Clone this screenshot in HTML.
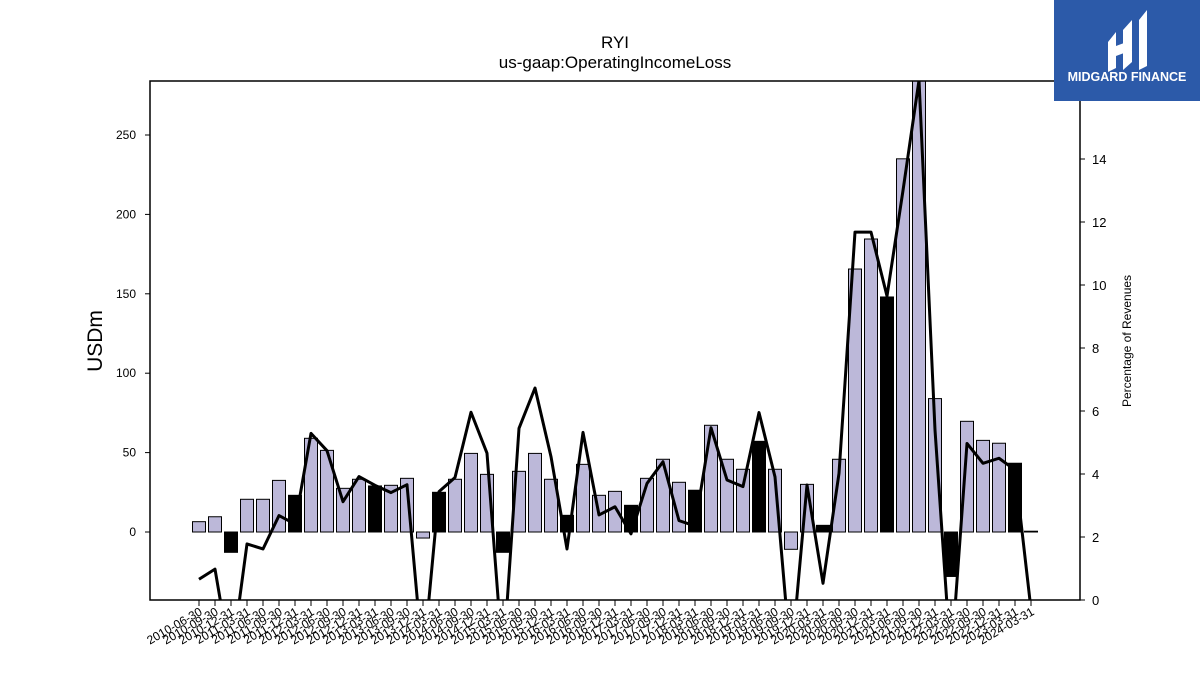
<!DOCTYPE html>
<html><head><meta charset="utf-8"><style>
body{margin:0;background:#fff;}
svg text{font-family:"Liberation Sans","DejaVu Sans",sans-serif;}
</style></head><body>
<svg id="chart" width="1200" height="675" xmlns="http://www.w3.org/2000/svg">
<rect width="1200" height="675" fill="#fff"/>
<text x="615" y="48" font-size="17" text-anchor="middle">RYI</text>
<text x="615" y="68" font-size="17" text-anchor="middle">us-gaap:OperatingIncomeLoss</text>
<defs><clipPath id="plotclip"><rect x="150" y="81" width="930" height="519"/></clipPath></defs>
<g id="bars" clip-path="url(#plotclip)"></g>
<g id="line" clip-path="url(#plotclip)"></g>
<rect x="150" y="81" width="930" height="519" fill="none" stroke="#000" stroke-width="1.5"/>
<g id="yleft"></g><g id="yright"></g><g id="xaxis"></g>
<text transform="translate(102,341) rotate(-90)" font-size="21" text-anchor="middle">USDm</text>
<text transform="translate(1131,341) rotate(-90)" font-size="12" text-anchor="middle">Percentage of Revenues</text>
<g>
<rect x="1054" y="0" width="146" height="101" fill="#2c5aa9"/>
<path d="M1108 42 L1116 32 L1116 68 L1108 72 Z M1123 30 L1132 20 L1132 62 L1123 70 Z M1139 20 L1147 10 L1147 66 L1139 70 Z M1116 46 L1132 40 L1132 50 L1116 56 Z" fill="#fff"/>
<text x="1127" y="81" font-size="12.5" font-weight="bold" fill="#fff" text-anchor="middle">MIDGARD FINANCE</text>
</g>
</svg>
<script>
const labels=["2010-06-30","2010-09-30","2010-12-31","2011-03-31","2011-06-30","2011-09-30","2011-12-31","2012-03-31","2012-06-30","2012-09-30","2012-12-31","2013-03-31","2013-06-30","2013-09-30","2013-12-31","2014-03-31","2014-06-30","2014-09-30","2014-12-31","2015-03-31","2015-06-30","2015-09-30","2015-12-31","2016-03-31","2016-06-30","2016-09-30","2016-12-31","2017-03-31","2017-06-30","2017-09-30","2017-12-31","2018-03-31","2018-06-30","2018-09-30","2018-12-31","2019-03-31","2019-06-30","2019-09-30","2019-12-31","2020-03-31","2020-06-30","2020-09-30","2020-12-31","2021-03-31","2021-06-30","2021-09-30","2021-12-31","2022-03-31","2022-06-30","2022-09-30","2022-12-31","2023-03-31","2024-03-31"];
const income=[6.5,9.6,-12.8,20.6,20.6,32.5,23.1,59,51.4,27.5,33.2,29,29.4,33.8,-3.8,25,33.2,49.5,36.3,-12.8,38.2,49.5,33.2,10.5,42.6,23.1,25.6,16.8,33.8,45.8,31.3,26.3,67.2,45.8,39.5,57.1,39.5,-10.9,30,4.2,45.8,165.6,184.5,148,235,300,84,-28,69.7,57.7,55.9,43.3,0.5];
const annual=[2,6,11,15,19,23,27,31,35,39,43,47,51];
const pct=[0.66,0.98,-2,1.78,1.62,2.68,2.41,5.29,4.74,3.12,3.92,3.64,3.41,3.66,-2,3.44,3.89,5.96,4.66,-2,5.45,6.73,4.55,1.62,5.32,2.7,2.96,2.1,3.7,4.39,2.52,2.35,5.47,3.81,3.6,5.95,3.91,-2,3.65,0.53,4.02,11.68,11.68,9.65,13.0,16.5,5.4,-2,4.97,4.34,4.5,4.13,-0.3];
const leftTicks=[0,50,100,150,200,250];
const rightTicks=[0,2,4,6,8,10,12,14,16];
const NS="http://www.w3.org/2000/svg";
const xs=i=>199+i*16;
const yl=v=>532-v*1.588;
const yr=v=>600-v*31.5;
function mk(t,a,p){const e=document.createElementNS(NS,t);for(const k in a)e.setAttribute(k,a[k]);p.appendChild(e);return e;}
const bars=document.getElementById('bars');
income.forEach((v,i)=>{
 const b=mk('rect',{x:xs(i)-6.5,y:Math.min(yl(v),yl(0)),width:13,height:Math.max(Math.abs(yl(v)-yl(0)),0.8),fill:annual.includes(i)?'#000':'#bcb8d9',stroke:'#000','stroke-width':1},bars);
 
 
});
const ln=mk('polyline',{points:pct.map((v,i)=>xs(i)+','+yr(v)).join(' '),fill:'none',stroke:'#000','stroke-width':3,'stroke-linejoin':'round'},document.getElementById('line'));


const gl=document.getElementById('yleft');
leftTicks.forEach(v=>{
 const t=mk('line',{x1:145,x2:150,y1:yl(v),y2:yl(v),stroke:'#000'},gl);
 
 
 const tx=mk('text',{x:136,y:yl(v)+4,'font-size':12,'text-anchor':'end'},gl);tx.textContent=v;
 
 
});
const gr=document.getElementById('yright');
rightTicks.forEach(v=>{
 const t=mk('line',{x1:1080,x2:1085,y1:yr(v),y2:yr(v),stroke:'#000'},gr);
 
 
 const tx=mk('text',{x:1092,y:yr(v)+5,'font-size':13},gr);tx.textContent=v;
 
 
});
const gx=document.getElementById('xaxis');
labels.forEach((l,i)=>{
 const t=mk('line',{x1:xs(i),x2:xs(i),y1:600,y2:606,stroke:'#000'},gx);
 
 
 const tx=mk('text',{transform:`translate(${xs(i)+4},${614}) rotate(-30)`,'font-size':12,'text-anchor':'end'},gx);tx.textContent=l;
 
 
});
</script>
</body></html>
